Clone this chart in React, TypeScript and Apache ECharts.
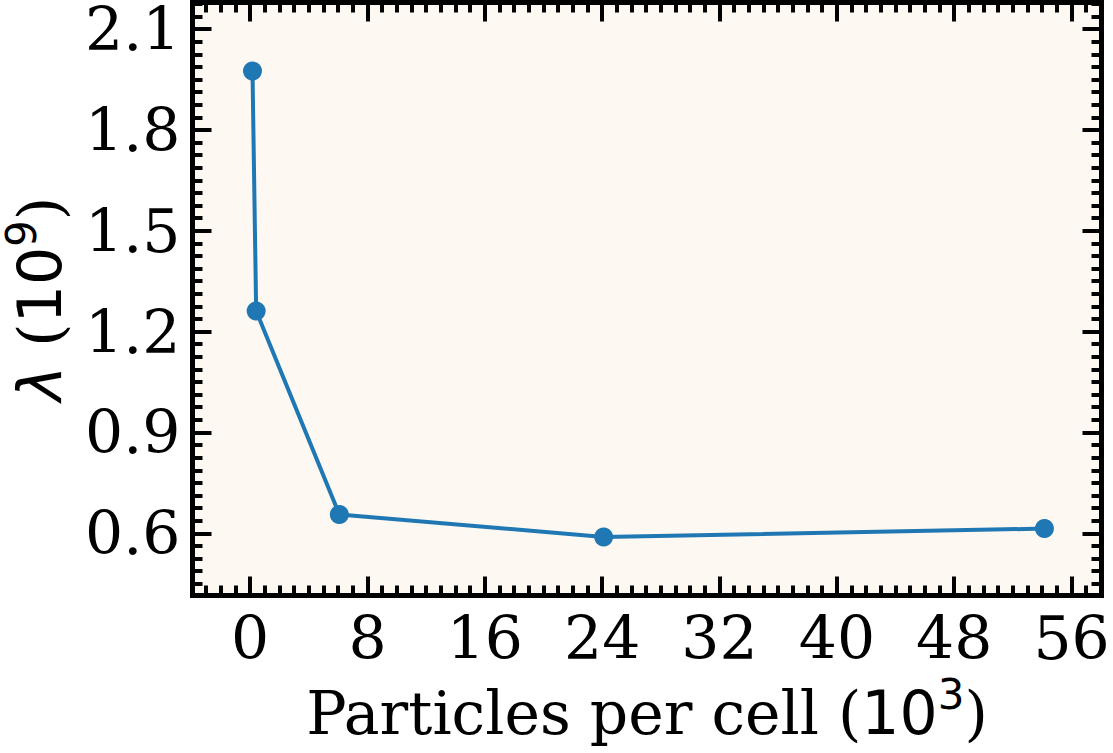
import React, { useEffect, useRef } from "react";
import * as echarts from "echarts";

const xValues = [0.16, 0.41, 6.08, 24.1, 54.15];
const lambdaValues = [1.975, 1.261, 0.656, 0.589, 0.614];
const xMajorTicks = [0, 8, 16, 24, 32, 40, 48, 56];
const xMinorTicks = [-3, -2, -1, 1, 2, 3, 4, 5, 6, 7, 9, 10, 11, 12, 13, 14, 15, 17, 18, 19, 20, 21, 22, 23, 25, 26, 27, 28, 29, 30, 31, 33, 34, 35, 36, 37, 38, 39, 41, 42, 43, 44, 45, 46, 47, 49, 50, 51, 52, 53, 54, 55, 57];
const yMajorTicks = [0.6, 0.9, 1.2, 1.5, 1.8, 2.1];
const yMinorTicks = [0.45, 0.4875, 0.525, 0.5625, 0.6375, 0.675, 0.7125, 0.75, 0.7875, 0.825, 0.8625, 0.9375, 0.975, 1.0125, 1.05, 1.0875, 1.125, 1.1625, 1.2375, 1.275, 1.3125, 1.35, 1.3875, 1.425, 1.4625, 1.5375, 1.575, 1.6125, 1.65, 1.6875, 1.725, 1.7625, 1.8375, 1.875, 1.9125, 1.95, 1.9875, 2.025, 2.0625, 2.1375, 2.175];
const xRange = [-3.93, 58.04];
const yRange = [0.415, 2.179];

const SERIF = "DejaVu Serif";
const SANS = "DejaVu Sans";
const FS = 60;

export default function App() {
  const ref = useRef<HTMLDivElement>(null);
  useEffect(() => {
    if (!ref.current) return;
    const chart = echarts.init(ref.current, null, { renderer: "svg" });
    const tickBase = (vals: number[], len: number) => ({
      show: true,
      inside: true,
      length: len,
      customValues: vals,
      lineStyle: { color: "#000", width: 4 },
    });
    const supStyle = { fontFamily: SANS, fontSize: 42, color: "#000", verticalAlign: "top", height: 34, lineHeight: 34 };
    const mkX = (pos: string, vals: number[], len: number, labels: boolean, name?: boolean) => ({
      type: "value",
      position: pos,
      min: xRange[0],
      max: xRange[1],
      axisLine: { show: false, onZero: false },
      axisTick: tickBase(vals, len),
      splitLine: { show: false },
      axisLabel: labels
        ? { show: true, customValues: xMajorTicks, fontFamily: SERIF, fontSize: FS, lineHeight: 56, color: "#000", margin: 14 }
        : { show: false },
      name: name ? "{a|Particles per cell (}{b|10}{s|3}{a|)}" : "",
      nameLocation: "middle",
      nameGap: 82,
      nameTextStyle: {
        rich: {
          a: { fontFamily: SERIF, fontSize: FS, color: "#000", lineHeight: 70 },
          b: { fontFamily: SANS, fontSize: FS, color: "#000", lineHeight: 70 },
          s: supStyle,
        },
      },
    });
    const mkY = (pos: string, vals: number[], len: number, labels: boolean, name?: boolean) => ({
      type: "value",
      position: pos,
      min: yRange[0],
      max: yRange[1],
      axisLine: { show: false, onZero: false },
      axisTick: tickBase(vals, len),
      splitLine: { show: false },
      axisLabel: labels
        ? {
            show: true,
            customValues: yMajorTicks,
            fontFamily: SERIF,
            fontSize: FS,
            lineHeight: 56,
            color: "#000",
            margin: 12,
            formatter: (v: number) => v.toFixed(1),
          }
        : { show: false },
      name: name ? "{l|λ}{a| (}{b|10}{s|9}{a|)}" : "",
      nameLocation: "middle",
      nameGap: 118,
      nameTextStyle: {
        rich: {
          l: { fontFamily: SANS, fontStyle: "italic", fontSize: FS, color: "#000", lineHeight: 70 },
          a: { fontFamily: SERIF, fontSize: FS, color: "#000", lineHeight: 70 },
          b: { fontFamily: SANS, fontSize: FS, color: "#000", lineHeight: 70 },
          s: supStyle,
        },
      },
    });
    chart.setOption({
      animation: false,
      backgroundColor: "#ffffff",
      grid: {
        left: 192.5,
        top: 2.5,
        right: 11.5,
        bottom: 157.5,
        show: true,
        backgroundColor: "#fdf8f2",
        borderColor: "#000",
        borderWidth: 5,
        containLabel: false,
        outerBoundsMode: "none",
      },
      xAxis: [
        mkX("bottom", xMajorTicks, 19, true, true),
        mkX("bottom", xMinorTicks, 10, false),
        mkX("top", xMajorTicks, 19, false),
        mkX("top", xMinorTicks, 10, false),
      ],
      yAxis: [
        mkY("left", yMajorTicks, 19, true, true),
        mkY("left", yMinorTicks, 10, false),
        mkY("right", yMajorTicks, 19, false),
        mkY("right", yMinorTicks, 10, false),
      ],
      series: [
        {
          type: "line",
          xAxisIndex: 0,
          yAxisIndex: 0,
          data: xValues.map((x, i) => [x, lambdaValues[i]]),
          symbol: "circle",
          symbolSize: 19,
          itemStyle: { color: "#1f77b4" },
          lineStyle: { color: "#1f77b4", width: 4 },
          z: 1,
        },
      ],
    });
    return () => chart.dispose();
  }, []);
  return (
    <div
      ref={ref}
      style={{ position: "absolute", left: 0, top: 0, width: 1113, height: 753, background: "#fff" }}
    />
  );
}
